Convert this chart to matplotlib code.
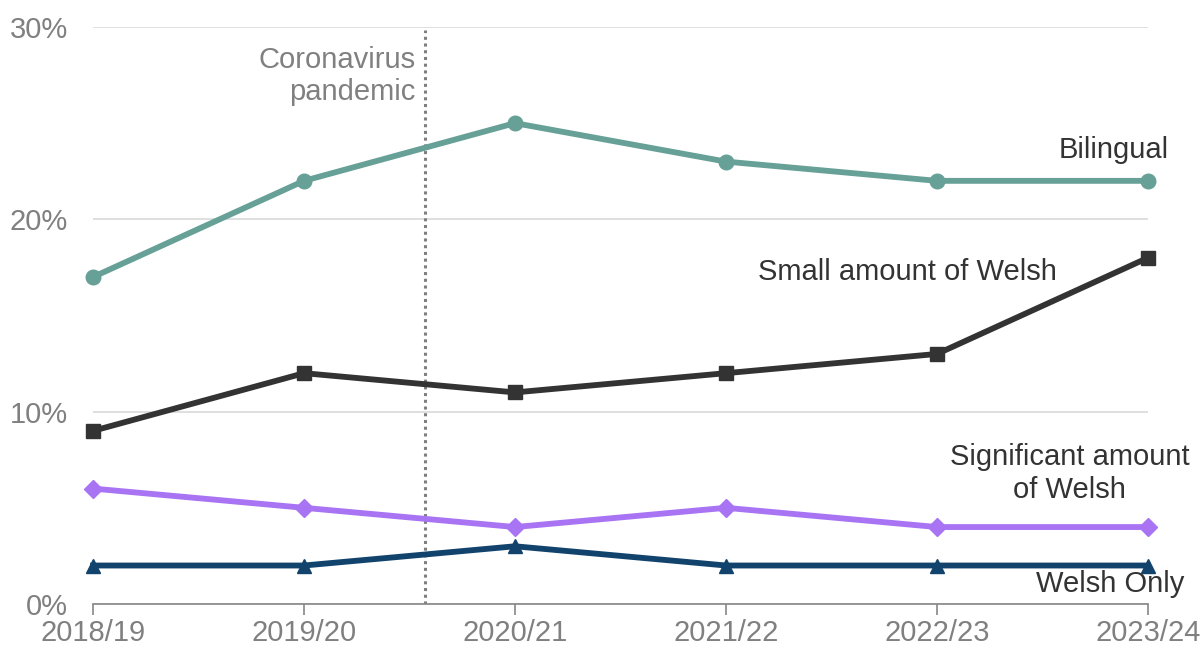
import matplotlib
matplotlib.use("Agg")
import matplotlib.pyplot as plt
from matplotlib.ticker import FuncFormatter

years = ["2018/19", "2019/20", "2020/21", "2021/22", "2022/23", "2023/24"]
bilingual = [17, 22, 25, 23, 22, 22]
small_amount = [9, 12, 11, 12, 13, 18]
significant_amount = [6, 5, 4, 5, 4, 4]
welsh_only = [2, 2, 3, 2, 2, 2]

plt.rcParams["font.family"] = ["Liberation Sans", "DejaVu Sans"]

fig = plt.figure(figsize=(12.02, 6.5), dpi=100)
ax = fig.add_axes([0.0774, 0.0708, 0.8776, 0.8877])

x = list(range(len(years)))
lw = 4.2
common = dict(lw=lw, zorder=3, clip_on=False)
ax.plot(x, bilingual, color="#66A096", marker="o", ms=10.5, **common)
ax.plot(x, small_amount, color="#333333", marker="s", ms=9.5, **common)
ax.plot(x, significant_amount, color="#A874F4", marker="D", ms=9, **common)
ax.plot(x, welsh_only, color="#12436D", marker="^", ms=10.5, **common)

# Pandemic marker between 2019/20 and 2020/21
ax.axvline(1.575, ymax=0.995, color="#7f7f7f", lw=2.2, ls=(0, (1, 1.2)), zorder=2)
ax.text(1.53, 28.3, "Coronavirus", ha="right", va="center", fontsize=21, color="#808080")
ax.text(1.53, 26.6, "pandemic", ha="right", va="center", fontsize=21, color="#808080")

lab = dict(fontsize=21, color="#333333", va="center", clip_on=False)
ax.text(4.84, 23.6, "Bilingual", ha="center", **lab)
ax.text(3.86, 17.25, "Small amount of Welsh", ha="center", **lab)
ax.text(4.63, 7.65, "Significant amount", ha="center", **lab)
ax.text(4.63, 5.95, "of Welsh", ha="center", **lab)
ax.text(4.82, 1.05, "Welsh Only", ha="center", **lab)

ax.set_xlim(0, 5)
ax.set_ylim(0, 30)
ax.set_yticks([0, 10, 20, 30])
ax.yaxis.set_major_formatter(FuncFormatter(lambda v, p: f"{v:.0f}%"))
ax.set_xticks(x)
ax.set_xticklabels(years)

ax.grid(axis="y", color="#d9d9d9", lw=1.2, zorder=0)
for s in ["top", "right", "left"]:
    ax.spines[s].set_visible(False)
ax.spines["bottom"].set_color("#868686")
ax.spines["bottom"].set_linewidth(1.2)
ax.tick_params(axis="y", length=0, labelsize=21, labelcolor="#808080", pad=18)
ax.tick_params(axis="x", length=8, width=1.2, color="#868686", labelsize=21,
               labelcolor="#808080", pad=3)
for t in ax.get_xticklabels():
    t.set_clip_on(False)

fig.savefig("out.png", dpi=100)
